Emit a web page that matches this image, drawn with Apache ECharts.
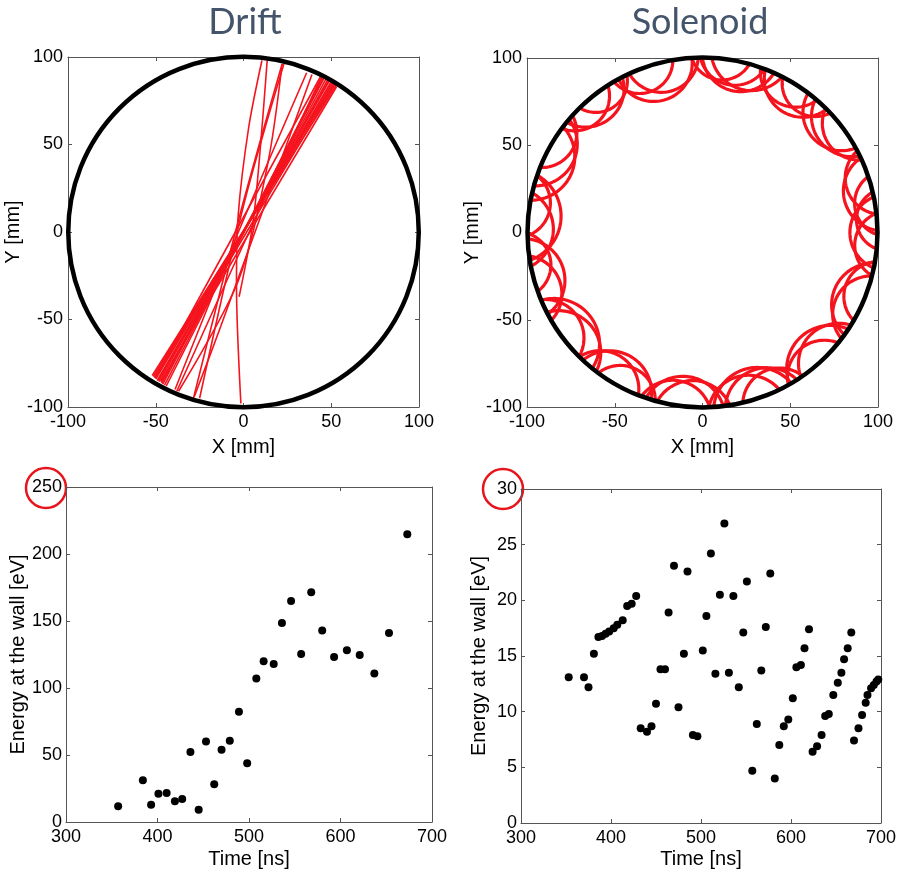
<!DOCTYPE html>
<html>
<head>
<meta charset="utf-8">
<script src="https://cdn.jsdelivr.net/npm/echarts@6/dist/echarts.min.js"></script>
<style>
  html, body { margin: 0; padding: 0; background: #fff; }
  #main { width: 899px; height: 871px; }
</style>
</head>
<body>
<div id="main"></div>
<script>
// wall of the vessel: centre x, centre y, radius [mm]
const wall = [[0, 0, 100]];

// Drift: electron tracks, points [x, y] in mm
const driftTracks = [
  [[-52, -82], [53, 84]],
  [[-51.5, -82.5], [52, 85]],
  [[-51, -83], [51.5, 84.5]],
  [[-50.5, -83.5], [51, 85]],
  [[-50, -84], [50.5, 85.5]],
  [[-49, -84.5], [50, 86]],
  [[-48.5, -85], [49, 86.5]],
  [[-48, -85.5], [48.5, 86.5]],
  [[-47, -86], [48, 87]],
  [[-46.5, -86.5], [47, 87.5]],
  [[-46, -87], [46, 88]],
  [[-45, -87.5], [45.5, 88]],
  [[-44, -88], [45, 88.5]],
  [[-50, -83], [44, 89]],
  [[-47, -85], [53, 83]],
  [[-49, -85], [52, 84]],
  [[-1.5, -98], [-4, -30], [-3, 10], [3, 60], [10.5, 98]],
  [[-2.5, -37], [6, 10], [13.5, 98]],
  [[-28.5, -95], [-2, 10], [22, 96]],
  [[-25, -95], [0, 15], [23, 96]],
  [[-39, -90], [-5, -5], [36, 91]],
  [[-28, -94], [-13, -54], [39, 90]],
  [[-38, -91], [-6, -20], [44, 88]],
  [[-37, -91], [-3, -28], [14, 40], [22, 96]]
];

// Solenoid: Larmor arcs [angle of guiding centre (deg), closest approach to axis (mm), Larmor radius (mm)]
const solenoidArcs = [
  [78, 83, 22], [80, 86, 20], [75, 85, 23], [84, 88, 18],
  [106, 79, 22], [103, 83, 21], [110, 86, 19],
  [129, 84, 22], [133, 87, 20], [125, 88, 18],
  [152, 84, 24], [156, 82, 25], [148, 88, 20],
  [175, 81, 27], [179, 85, 24], [171, 88, 20],
  [195, 82, 24], [199, 86, 22], [190, 88, 19],
  [217, 80, 26], [220, 83, 24], [214, 86, 22],
  [240, 82, 24], [237, 85, 22], [244, 87, 20],
  [264, 83, 24], [261, 86, 22], [267, 85, 23],
  [287, 82, 25], [284, 85, 23], [290, 84, 24], [294, 87, 21],
  [313, 82, 25], [316, 85, 23], [310, 87, 21],
  [337, 82, 24], [334, 85, 22], [340, 87, 20],
  [0, 84, 22], [356, 87, 20], [4, 88, 18],
  [13, 83, 23], [17, 86, 21], [9, 88, 19],
  [38, 85, 23], [35, 88, 21], [41, 83, 22],
  [57, 83, 22], [60, 86, 20], [53, 88, 19]
];

// Energy at the wall vs time, drift case: [time ns, energy eV]
const driftTime = [357, 384, 393, 401, 410, 419, 427, 436, 445, 453, 462, 470, 479, 489, 498,
  508, 516, 527, 536, 546, 557, 568, 580, 593, 607, 621, 637, 653, 673];
const driftEnergy = [11.7, 31.1, 12.9, 21.1, 21.6, 15.4, 17.2, 52.2, 9.2, 60, 28.1, 54, 60.7, 82.3, 43.8,
  107, 119.9, 117.9, 148.5, 164.9, 125.4, 171.4, 143, 123.1, 128.1, 124.6, 110.9, 141, 214.7];

// solenoid case
const solTime = [353, 370, 375, 381, 386, 390, 394, 398, 403, 407, 413, 418, 423, 428,
  433, 440, 445, 450, 455, 460, 464, 470, 475, 481, 485, 491, 496, 502, 506, 511, 516,
  521, 526, 531, 536, 542, 547, 551, 557, 562, 567, 572, 577, 582, 587, 592, 597, 602,
  606, 611, 615, 620, 624, 629, 634, 638, 642, 647, 652, 656, 659, 663, 667, 670, 675,
  679, 683, 685, 689, 692, 695, 697];
const solEnergy = [13.1, 13.1, 12.2, 15.2, 16.7, 16.8, 17.0, 17.2, 17.5, 17.8, 18.2, 19.5, 19.7, 20.4,
  8.5, 8.2, 8.7, 10.7, 13.8, 13.8, 18.9, 23.1, 10.4, 15.2, 22.6, 7.9, 7.8, 15.5, 18.6, 24.2, 13.4,
  20.5, 26.9, 13.5, 20.4, 12.2, 17.1, 21.7, 4.7, 8.9, 13.7, 17.6, 22.4, 4.0, 7.0, 8.7, 9.3, 11.2,
  14.0, 14.2, 15.7, 17.4, 6.4, 6.9, 7.9, 9.6, 9.8, 11.5, 12.6, 13.5, 14.7, 15.7, 17.1, 7.4, 8.5,
  9.7, 10.8, 11.5, 12.1, 12.4, 12.7, 12.9];

const FONT = 'Liberation Sans, Arial, sans-serif';
const RED = '#f5141e';

function zip(a, b) {
  return a.map((v, i) => [v, b[i]]);
}

// main axis with labels + a mirrored one (box frame, ticks on all sides)
function axes(dim, gridIndex, min, max, interval, name, nameGap, labelMargin) {
  const isX = dim === 'x';
  const base = {
    type: 'value',
    gridIndex: gridIndex,
    min: min,
    max: max,
    interval: interval,
    splitLine: { show: false },
    axisLine: { show: true, onZero: false, lineStyle: { color: '#555', width: 1 } },
    axisTick: { show: true, inside: true, length: 4, lineStyle: { color: '#555' } }
  };
  const main = Object.assign({}, base, {
    position: isX ? 'bottom' : 'left',
    name: name,
    nameLocation: 'middle',
    nameGap: nameGap,
    nameTextStyle: { color: '#000', fontSize: 20, fontFamily: FONT },
    axisLabel: { color: '#000', fontSize: 18, fontFamily: FONT, margin: labelMargin }
  });
  const mirror = Object.assign({}, base, {
    position: isX ? 'top' : 'right',
    axisLabel: { show: false }
  });
  return [main, mirror];
}

const grids = [
  { left: 68, top: 57, width: 351, height: 350 },
  { left: 527, top: 58, width: 351, height: 349 },
  { left: 66, top: 487, width: 366, height: 335 },
  { left: 521, top: 489, width: 365, height: 334 }
];

const xAxes = [].concat(
  axes('x', 0, -100, 100, 50, 'X [mm]', 30, 6),
  axes('x', 1, -100, 100, 50, 'X [mm]', 30, 6),
  axes('x', 2, 300, 700, 100, 'Time [ns]', 27, 6),
  axes('x', 3, 300, 700, 100, 'Time [ns]', 26, 6)
);
const yAxes = [].concat(
  axes('y', 0, -100, 100, 50, 'Y [mm]', 32, 5),
  axes('y', 1, -100, 100, 50, 'Y [mm]', 32, 5),
  axes('y', 2, 0, 250, 50, 'Energy at the wall [eV]', 36, 4),
  axes('y', 3, 0, 30, 5, 'Energy at the wall [eV]', 32, 4)
);

function wallSeries(k) {
  return {
    type: 'custom',
    xAxisIndex: 2 * k,
    yAxisIndex: 2 * k,
    clip: false,
    silent: true,
    z: 5,
    data: wall,
    renderItem: function (params, api) {
      const c = api.coord([api.value(0), api.value(1)]);
      const s = api.size([api.value(2), api.value(2)]);
      return {
        type: 'circle',
        shape: { cx: c[0], cy: c[1], r: (s[0] + s[1]) / 2 },
        style: { fill: null, stroke: '#000', lineWidth: 4.5 }
      };
    }
  };
}

const series = [];

driftTracks.forEach(function (t) {
  series.push({
    type: 'line',
    xAxisIndex: 0,
    yAxisIndex: 0,
    data: t,
    showSymbol: false,
    smooth: 0.3,
    silent: true,
    lineStyle: { color: RED, width: 1.6 },
    z: 3
  });
});
series.push(wallSeries(0));

series.push({
  type: 'custom',
  xAxisIndex: 2,
  yAxisIndex: 2,
  clip: false,
  silent: true,
  z: 3,
  data: solenoidArcs,
  renderItem: function (params, api) {
    const R = 100;
    const phi = api.value(0) * Math.PI / 180;
    const r = api.value(2);
    const d = api.value(1) + r;
    const cx = d * Math.cos(phi), cy = d * Math.sin(phi);
    // part of the Larmor circle that lies inside the wall
    let ca = (R * R - d * d - r * r) / (2 * d * r);
    ca = Math.max(-1, Math.min(1, ca));
    const a0 = Math.acos(ca);
    const pts = [];
    const n = 48;
    for (let i = 0; i <= n; i++) {
      const a = phi + a0 + (2 * Math.PI - 2 * a0) * i / n;
      pts.push(api.coord([cx + r * Math.cos(a), cy + r * Math.sin(a)]));
    }
    return {
      type: 'polyline',
      shape: { points: pts },
      style: { fill: null, stroke: RED, lineWidth: 3.2 }
    };
  }
});
series.push(wallSeries(1));

series.push({
  type: 'scatter',
  xAxisIndex: 4,
  yAxisIndex: 4,
  data: zip(driftTime, driftEnergy),
  symbolSize: 8,
  itemStyle: { color: '#000', opacity: 1 }
});
series.push({
  type: 'scatter',
  xAxisIndex: 6,
  yAxisIndex: 6,
  data: zip(solTime, solEnergy),
  symbolSize: 8,
  itemStyle: { color: '#000', opacity: 1 }
});

const chart = echarts.init(document.getElementById('main'), null, { renderer: 'canvas' });
chart.setOption({
  animation: false,
  backgroundColor: '#fff',
  grid: grids,
  xAxis: xAxes,
  yAxis: yAxes,
  series: series,
  graphic: [
    {
      type: 'text', x: 245, y: 22,
      style: { text: 'Drift', font: '36px Lato, "Open Sans", sans-serif', fill: '#44546a',
        align: 'center', verticalAlign: 'middle', textAlign: 'center', textVerticalAlign: 'middle' }
    },
    {
      type: 'text', x: 700, y: 22,
      style: { text: 'Solenoid', font: '36px Lato, "Open Sans", sans-serif', fill: '#44546a',
        align: 'center', verticalAlign: 'middle', textAlign: 'center', textVerticalAlign: 'middle' }
    },
    {
      type: 'circle', shape: { cx: 46, cy: 488, r: 20 },
      style: { fill: null, stroke: '#e8141c', lineWidth: 2.5 }
    },
    {
      type: 'circle', shape: { cx: 503, cy: 489, r: 20 },
      style: { fill: null, stroke: '#e8141c', lineWidth: 2.5 }
    }
  ]
});
</script>
</body>
</html>
